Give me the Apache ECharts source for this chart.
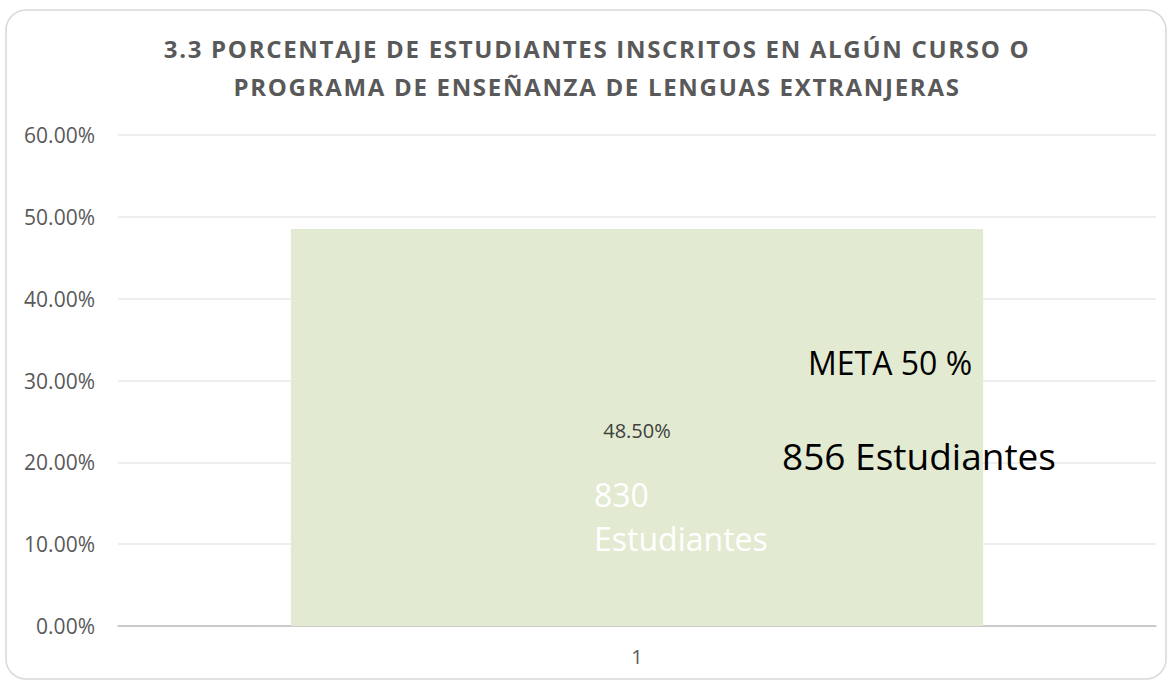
<!DOCTYPE html>
<html>
<head>
<meta charset="utf-8">
<script src="https://cdn.jsdelivr.net/npm/echarts@6/dist/echarts.min.js"></script>
<style>
  html, body { margin: 0; padding: 0; background: #fff; }
  #chart { width: 1172px; height: 681px; }
  /* the title in the original is spaced out a little */
  #chart svg text[style*="bold"] { letter-spacing: 1.7px; }
</style>
</head>
<body>
<div id="chart"></div>
<script>
const categories = ["1"];
const percentValues = [48.5];
const yTicks = [0, 10, 20, 30, 40, 50, 60];
const titleLines = [
  "3.3 PORCENTAJE DE ESTUDIANTES INSCRITOS EN ALGÚN CURSO O",
  "PROGRAMA DE ENSEÑANZA DE LENGUAS EXTRANJERAS"
];
const annotations = {
  enrolled: "830\nEstudiantes",
  goal: "META 50 %",
  goalStudents: "856 Estudiantes"
};

let myChart = echarts.init(document.getElementById("chart"), null, { renderer: "svg" });

const option = {
  animation: false,
  textStyle: { fontFamily: "Open Sans" },
  title: {
    text: titleLines.join("\n"),
    left: 592,
    top: 24,
    textAlign: "center",
    textStyle: {
      fontFamily: "Open Sans",
      fontSize: 24,
      fontWeight: "bold",
      color: "#595959",
      lineHeight: 38,
    },
  },
  grid: {
    left: 118,
    right: 16,
    top: 135,
    bottom: 55,
  },
  xAxis: {
    type: "category",
    data: categories,
    axisLine: { lineStyle: { color: "#bfbfbf", width: 1.5 } },
    axisTick: { show: false },
    axisLabel: {
      color: "#595959",
      fontSize: 20,
      margin: 20,
    },
  },
  yAxis: {
    type: "value",
    min: yTicks[0],
    max: yTicks[yTicks.length - 1],
    interval: 10,
    axisLine: { show: false },
    axisTick: { show: false },
    axisLabel: {
      color: "#595959",
      fontSize: 21,
      margin: 23,
      formatter: (v) => v.toFixed(2) + "%",
    },
    splitLine: { lineStyle: { color: "#e8e8e8", width: 1.5 } },
  },
  series: [
    {
      type: "bar",
      data: percentValues,
      barWidth: "66.7%",
      itemStyle: { color: "#e2ebd1" },
      label: {
        show: true,
        position: "inside",
        offset: [0, 3],
        color: "#404040",
        fontSize: 20,
        formatter: (p) => p.value.toFixed(2) + "%",
      },
    },
  ],
  graphic: [
    {
      type: "rect",
      shape: { x: 6, y: 10, width: 1160, height: 669, r: 20 },
      style: { fill: "none", stroke: "#d9d9d9", lineWidth: 1.5 },
      silent: true,
      z: -1,
    },
    {
      type: "text",
      x: 594,
      y: 472,
      z: 100,
      style: {
        text: annotations.enrolled,
        fill: "#ffffff",
        fontFamily: "Open Sans",
        fontSize: 32,
        lineHeight: 44,
      },
    },
    {
      type: "text",
      x: 808,
      y: 346,
      z: 100,
      style: {
        text: annotations.goal,
        fill: "#000000",
        fontFamily: "Open Sans",
        fontSize: 32,
      },
    },
    {
      type: "text",
      x: 782,
      y: 437,
      z: 100,
      style: {
        text: annotations.goalStudents,
        fill: "#000000",
        fontFamily: "Open Sans",
        fontSize: 37,
      },
    },
  ],
};

myChart.setOption(option);

window.addEventListener("resize", () => {
  myChart.resize();
});
</script>
</body>
</html>
